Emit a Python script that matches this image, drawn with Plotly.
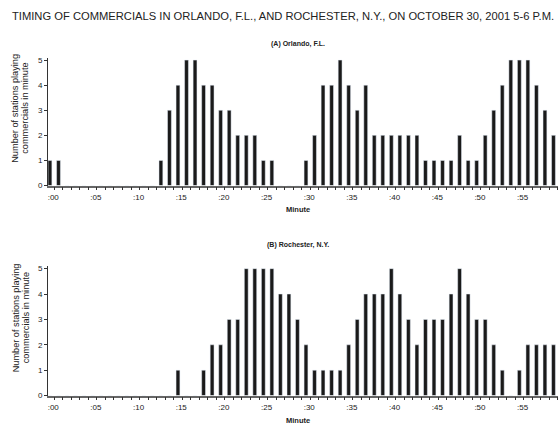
import plotly.graph_objects as go

minutes = list(range(60))
orlando = [1, 1, 0, 0, 0, 0, 0, 0, 0, 0, 0, 0, 0, 1, 3, 4, 5, 5, 4, 4,
           3, 3, 2, 2, 2, 1, 1, 0, 0, 0, 1, 2, 4, 4, 5, 4, 3, 4, 2, 2,
           2, 2, 2, 2, 1, 1, 1, 1, 2, 1, 1, 2, 3, 4, 5, 5, 5, 4, 3, 2]
rochester = [0, 0, 0, 0, 0, 0, 0, 0, 0, 0, 0, 0, 0, 0, 0, 1, 0, 0, 1, 2,
             2, 3, 3, 5, 5, 5, 5, 4, 4, 3, 2, 1, 1, 1, 1, 2, 3, 4, 4, 4,
             5, 4, 3, 2, 3, 3, 3, 4, 5, 4, 3, 3, 2, 1, 0, 1, 2, 2, 2, 2]
y_ticks = [0, 1, 2, 3, 4, 5]
tick_positions = [m + 0.5 for m in minutes]
tick_labels = [":%02d" % m if m % 5 == 0 else "" for m in minutes]

title = "TIMING OF COMMERCIALS IN ORLANDO, F.L., AND ROCHESTER, N.Y., ON OCTOBER 30, 2001 5-6 P.M."
panel_titles = ["(A) Orlando, F.L.", "(B) Rochester, N.Y."]
y_title_lines = ["Number of stations playing", "commercials in minute"]
x_title = "Minute"

W, H = 558, 437
FONT = "Liberation Sans, Arial, sans-serif"
BAR = "#1a1a1a"

def px(x):
    return x / W

def py(y):
    return 1 - y / H

fig = go.Figure()
fig.add_trace(go.Bar(x=minutes, y=orlando, marker_color=BAR, width=0.45,
                     xaxis="x", yaxis="y", showlegend=False))
fig.add_trace(go.Bar(x=minutes, y=rochester, marker_color=BAR, width=0.45,
                     xaxis="x2", yaxis="y2", showlegend=False))

xcommon = dict(range=[-0.23, 59.53], tickmode="array", tickvals=tick_positions,
               ticktext=tick_labels, ticks="outside", ticklen=3, tickwidth=1,
               tickcolor="#333", showline=True, linecolor="#666", linewidth=1.5,
               showgrid=False, zeroline=False, ticklabelshift=-1,
               tickfont=dict(family=FONT, size=8, color="#222"),
               domain=[px(48), 1.0])
ycommon = dict(range=[0, 5.1], tickmode="array", tickvals=y_ticks,
               ticks="outside", ticklen=3, tickwidth=1, tickcolor="#333",
               showline=True, linecolor="#333", linewidth=1, showgrid=False,
               zeroline=False, tickfont=dict(family=FONT, size=8, color="#222"))

fig.update_layout(
    width=W, height=H, margin=dict(l=0, r=0, t=0, b=0),
    paper_bgcolor="white", plot_bgcolor="white",
    bargap=0.5,
    xaxis=dict(**xcommon, anchor="y"),
    yaxis=dict(**ycommon, anchor="x", domain=[py(186.5), py(56.5)]),
    xaxis2=dict(**xcommon, anchor="y2"),
    yaxis2=dict(**ycommon, anchor="x2", domain=[py(400), py(268.4)]),
)

ann = []
ann.append(dict(text=title, x=px(10), y=py(14), xref="paper", yref="paper",
                xanchor="left", yanchor="middle", showarrow=False,
                font=dict(family=FONT, size=11.2, color="#222")))
for t, yy in zip(panel_titles, [43, 247]):
    ann.append(dict(text="<b>%s</b>" % t, x=px(298), y=py(yy), xref="paper", yref="paper",
                    xanchor="center", yanchor="middle", showarrow=False,
                    font=dict(family=FONT, size=7, color="#222")))
for yy in [211, 425]:
    ann.append(dict(text="<b>%s</b>" % x_title, x=px(298), y=py(yy), xref="paper", yref="paper",
                    xanchor="center", yanchor="middle", showarrow=False,
                    font=dict(family=FONT, size=7.5, color="#222")))
for yc in [108, 321]:
    for line, xc in zip(y_title_lines, [15.5, 25.5]):
        ann.append(dict(text=line, x=px(xc), y=py(yc), xref="paper", yref="paper",
                        xanchor="center", yanchor="middle", showarrow=False, textangle=-90,
                        font=dict(family=FONT, size=9.2, color="#222")))
fig.update_layout(annotations=ann)

fig.write_html("out.html", config={"displayModeBar": False},
               post_script="document.body.style.margin='0';"
                           "document.body.style.overflow='hidden';"
                           "document.documentElement.style.overflow='hidden';")
